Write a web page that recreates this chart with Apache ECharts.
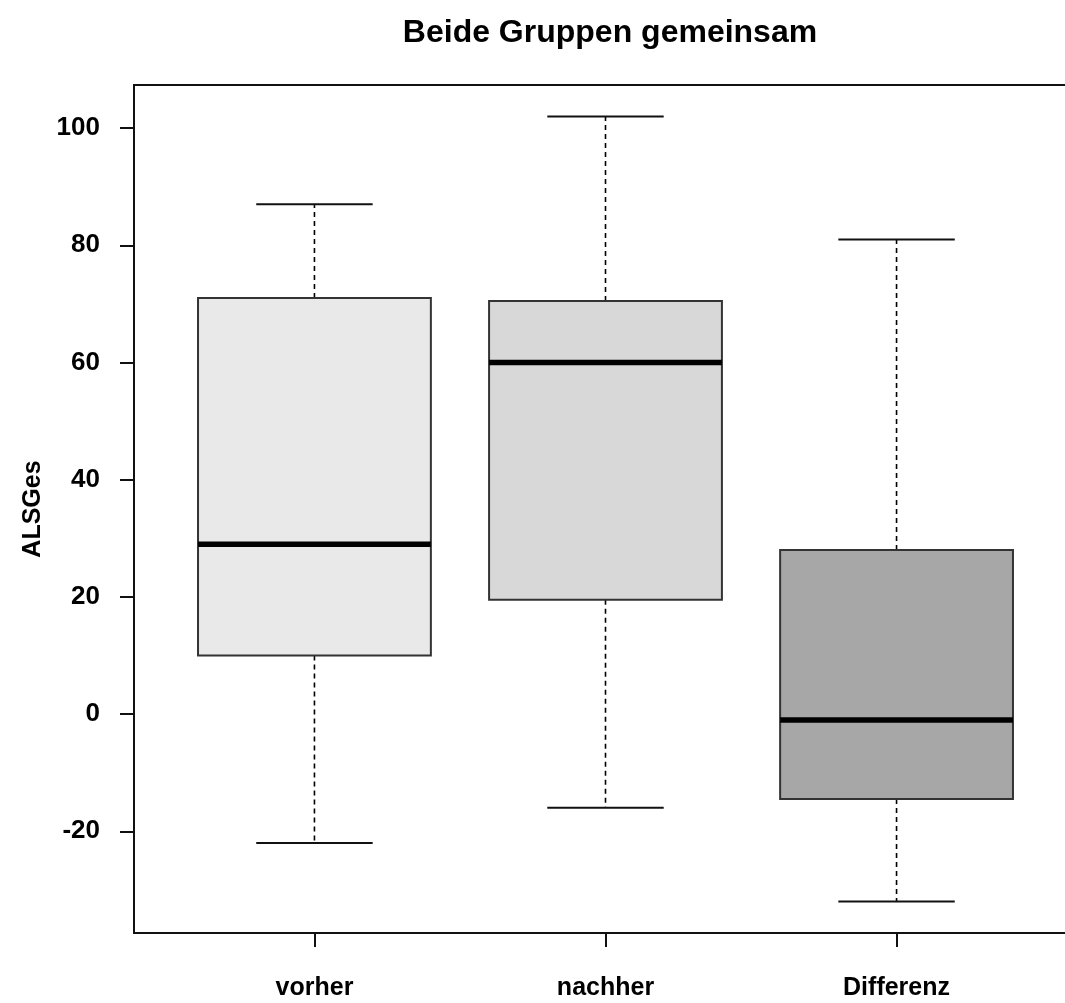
<!DOCTYPE html>
<html>
<head>
<meta charset="utf-8">
<script src="https://cdn.jsdelivr.net/npm/echarts@6/dist/echarts.min.js"></script>
<style>
  html, body { margin: 0; padding: 0; background: #fff; overflow: hidden; }
  /* the plot frame runs a little past the right edge of the page */
  #chart { width: 1090px; height: 1003px; }
</style>
</head>
<body>
<div id="chart"></div>
<script>
// Groups shown along the x axis
const categories = ['vorher', 'nachher', 'Differenz'];
// Five-number summaries: [lower whisker, Q1, median, Q3, upper whisker]
const vorher    = [-22, 10, 29, 71, 87];
const nachher   = [-16, 19.5, 60, 70.5, 102];
const differenz = [-32, -14.5, -1, 28, 81];
// Box fills per group
const fills = ['#e9e9e9', '#d8d8d8', '#a7a7a7'];
// Y-axis tick values
const yTicks = [-20, 0, 20, 40, 60, 80, 100];

const stats = [vorher, nachher, differenz];
const boxData = stats.map((s, i) => [i + 1].concat(s));

// Data range padded by 4% on both sides
const lo = Math.min(...stats.map(s => s[0]));
const hi = Math.max(...stats.map(s => s[4]));
const pad = (hi - lo) * 0.04;
const xPad = 3 * 0.04 + 0.5;

const FONT = '"Liberation Sans", Arial, sans-serif';

function renderBox(params, api) {
  const x = api.value(0);
  const lw = api.coord([x, api.value(1)]);
  const q1 = api.coord([x, api.value(2)]);
  const md = api.coord([x, api.value(3)]);
  const q3 = api.coord([x, api.value(4)]);
  const uw = api.coord([x, api.value(5)]);
  const half = api.size([0.4, 0])[0];
  const staple = api.size([0.2, 0])[0];
  const cx = lw[0];
  const dashStyle = { stroke: '#000', lineWidth: 1.6, lineDash: [5, 4] };
  const solid = { stroke: '#111', lineWidth: 2 };
  return {
    type: 'group',
    children: [
      { type: 'line', shape: { x1: cx, y1: q3[1], x2: cx, y2: uw[1] }, style: dashStyle },
      { type: 'line', shape: { x1: cx, y1: q1[1], x2: cx, y2: lw[1] }, style: dashStyle },
      { type: 'line', shape: { x1: cx - staple, y1: uw[1], x2: cx + staple, y2: uw[1] }, style: solid },
      { type: 'line', shape: { x1: cx - staple, y1: lw[1], x2: cx + staple, y2: lw[1] }, style: solid },
      {
        type: 'rect',
        shape: { x: cx - half, y: q3[1], width: half * 2, height: q1[1] - q3[1] },
        style: { fill: fills[params.dataIndex], stroke: '#333', lineWidth: 2 }
      },
      { type: 'line', shape: { x1: cx - half, y1: md[1], x2: cx + half, y2: md[1] }, style: { stroke: '#000', lineWidth: 5.5 } }
    ]
  };
}

const chart = echarts.init(document.getElementById('chart'));
chart.setOption({
  animation: false,
  backgroundColor: '#fff',
  title: {
    text: 'Beide Gruppen gemeinsam',
    left: 605,
    top: 12,
    textAlign: 'center',
    textStyle: { fontFamily: FONT, fontWeight: 'bold', fontSize: 32, color: '#000' }
  },
  grid: {
    left: 134, top: 85, width: 943, height: 848,
    show: true, borderColor: '#111', borderWidth: 2, backgroundColor: 'transparent'
  },
  xAxis: {
    type: 'value',
    min: 1 - xPad,
    max: 3 + xPad,
    splitLine: { show: false },
    axisLine: { show: false, onZero: false },
    axisTick: { show: true, length: 14, customValues: [1, 2, 3], lineStyle: { color: '#111', width: 2 } },
    axisLabel: {
      customValues: [1, 2, 3],
      formatter: v => categories[Math.round(v) - 1] || '',
      margin: 43,
      fontFamily: FONT, fontWeight: 'bold', fontSize: 25, color: '#000'
    }
  },
  yAxis: {
    type: 'value',
    min: lo - pad,
    max: hi + pad,
    name: 'ALSGes',
    nameLocation: 'middle',
    nameGap: 80,
    nameRotate: 90,
    nameTextStyle: { fontFamily: FONT, fontWeight: 'bold', fontSize: 25, color: '#000' },
    splitLine: { show: false },
    axisLine: { show: false, onZero: false },
    axisTick: { show: true, length: 14, customValues: yTicks, lineStyle: { color: '#111', width: 2 } },
    axisLabel: {
      customValues: yTicks,
      margin: 34,
      fontFamily: FONT, fontWeight: 'bold', fontSize: 26, color: '#000'
    }
  },
  series: [{
    type: 'custom',
    renderItem: renderBox,
    encode: { x: 0, y: [1, 2, 3, 4, 5] },
    data: boxData,
    clip: false
  }]
});
</script>
</body>
</html>
